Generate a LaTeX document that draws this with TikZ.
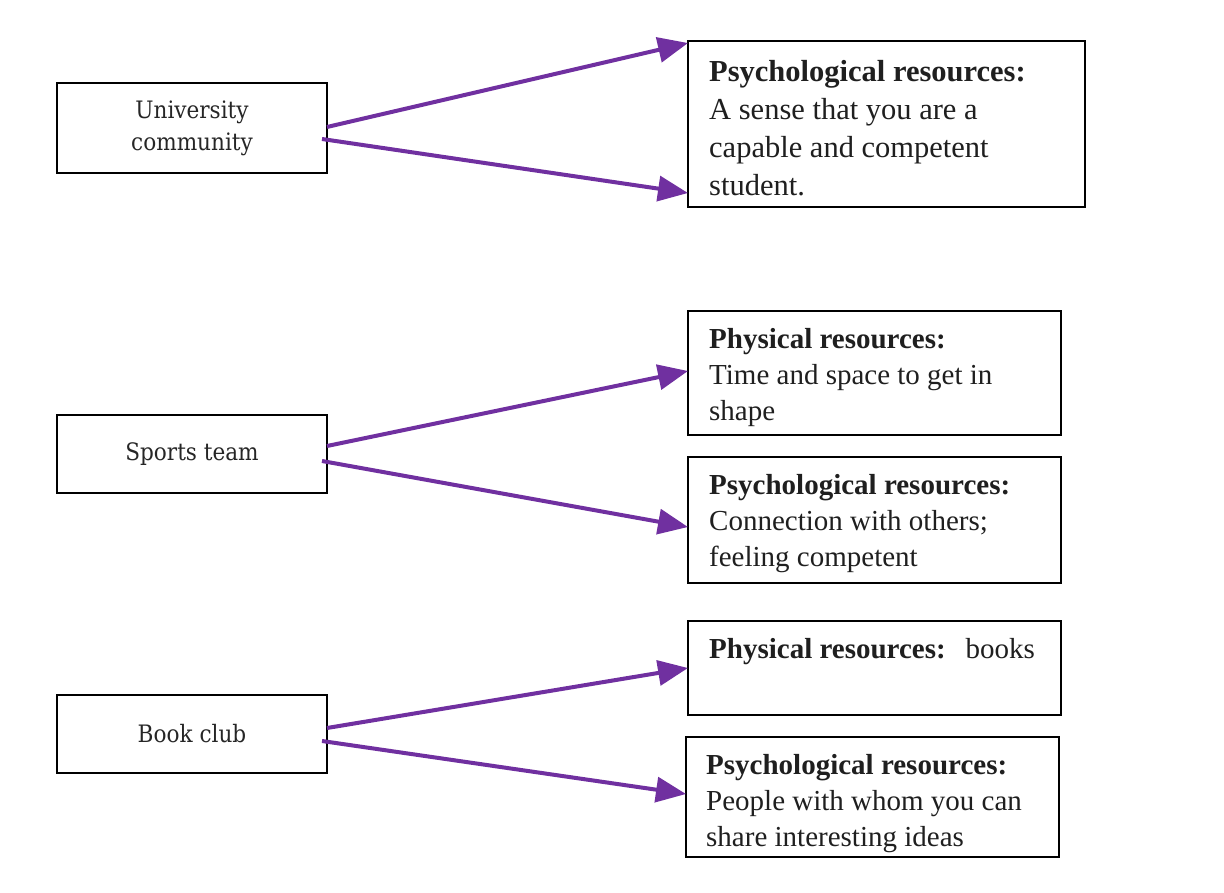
\documentclass[tikz,border=0pt]{standalone}
\usepackage{fontspec}
\setmainfont{Liberation Serif}
\newfontfamily\leftfont{DejaVu Serif Condensed}
\usetikzlibrary{arrows.meta}
\definecolor{arrpurple}{HTML}{7030A0}
\tikzset{
  srcbox/.style={draw=black, line width=2pt, outer sep=0pt, inner sep=0pt, minimum width=270pt, anchor=north west,
    font={\leftfont\fontsize{24}{32}\selectfont}, align=center, text=black!85},
  resbox/.style={draw=black, line width=2pt, outer sep=0pt, inner sep=0pt, anchor=north west},
  restext/.style={anchor=north west, inner sep=0pt, align=left, text=black!88,
    font={\fontsize{29}{36}\selectfont}},
  arr/.style={draw=arrpurple, line width=4pt, -{Triangle[length=30pt,width=25pt]}}
}
\begin{document}
\begin{tikzpicture}[x=1pt,y=-1pt]
\useasboundingbox (0,0) rectangle (1224,892);
% source boxes
\node[srcbox, minimum height=90pt] (uc) at (57,83) {University\\community};
\node[srcbox, minimum height=78pt] (st) at (57,415) {Sports team};
\node[srcbox, minimum height=78pt] (bc) at (57,695) {Book club};
% resource boxes
\node[resbox, minimum width=397pt, minimum height=166pt] (r1) at (688,41) {};
\node[resbox, minimum width=373pt, minimum height=124pt] (p2) at (688,311) {};
\node[resbox, minimum width=373pt, minimum height=126pt] (q2) at (688,457) {};
\node[resbox, minimum width=373pt, minimum height=94pt] (p3) at (688,621) {};
\node[resbox, minimum width=373pt, minimum height=120pt] (q3) at (686,737) {};
% texts
\node[restext, font={\fontsize{30.5}{38}\selectfont}] (r1t) at (709,60)
  {\textbf{Psychological resources:}\\A sense that you are a\\capable and competent\\student.};
\node[restext] (p2t) at (709,328) {\textbf{Physical resources:}\\Time and space to get in\\shape};
\node[restext] (q2t) at (709,474) {\textbf{Psychological resources:}\\Connection with others;\\feeling competent};
\node[restext] (p3t) at (709,638) {\textbf{Physical resources:}\hspace{20pt}books};
\node[restext] (q3t) at (706,754) {\textbf{Psychological resources:}\\People with whom you can\\share interesting ideas};
% connectors
\draw[arr] ([yshift=-44pt]uc.north east) -- ([yshift=-2pt]r1.north west);
\draw[arr] ([xshift=-5pt,yshift=-56pt]uc.north east) -- ([yshift=-152pt]r1.north west);
\draw[arr] ([yshift=-31pt]st.north east) -- ([yshift=-60pt]p2.north west);
\draw[arr] ([xshift=-5pt,yshift=-46pt]st.north east) -- ([yshift=-70pt]q2.north west);
\draw[arr] ([yshift=-33pt]bc.north east) -- ([yshift=-47pt]p3.north west);
\draw[arr] ([xshift=-5pt,yshift=-46pt]bc.north east) -- ([yshift=-57pt]q3.north west);
\end{tikzpicture}
\end{document}
